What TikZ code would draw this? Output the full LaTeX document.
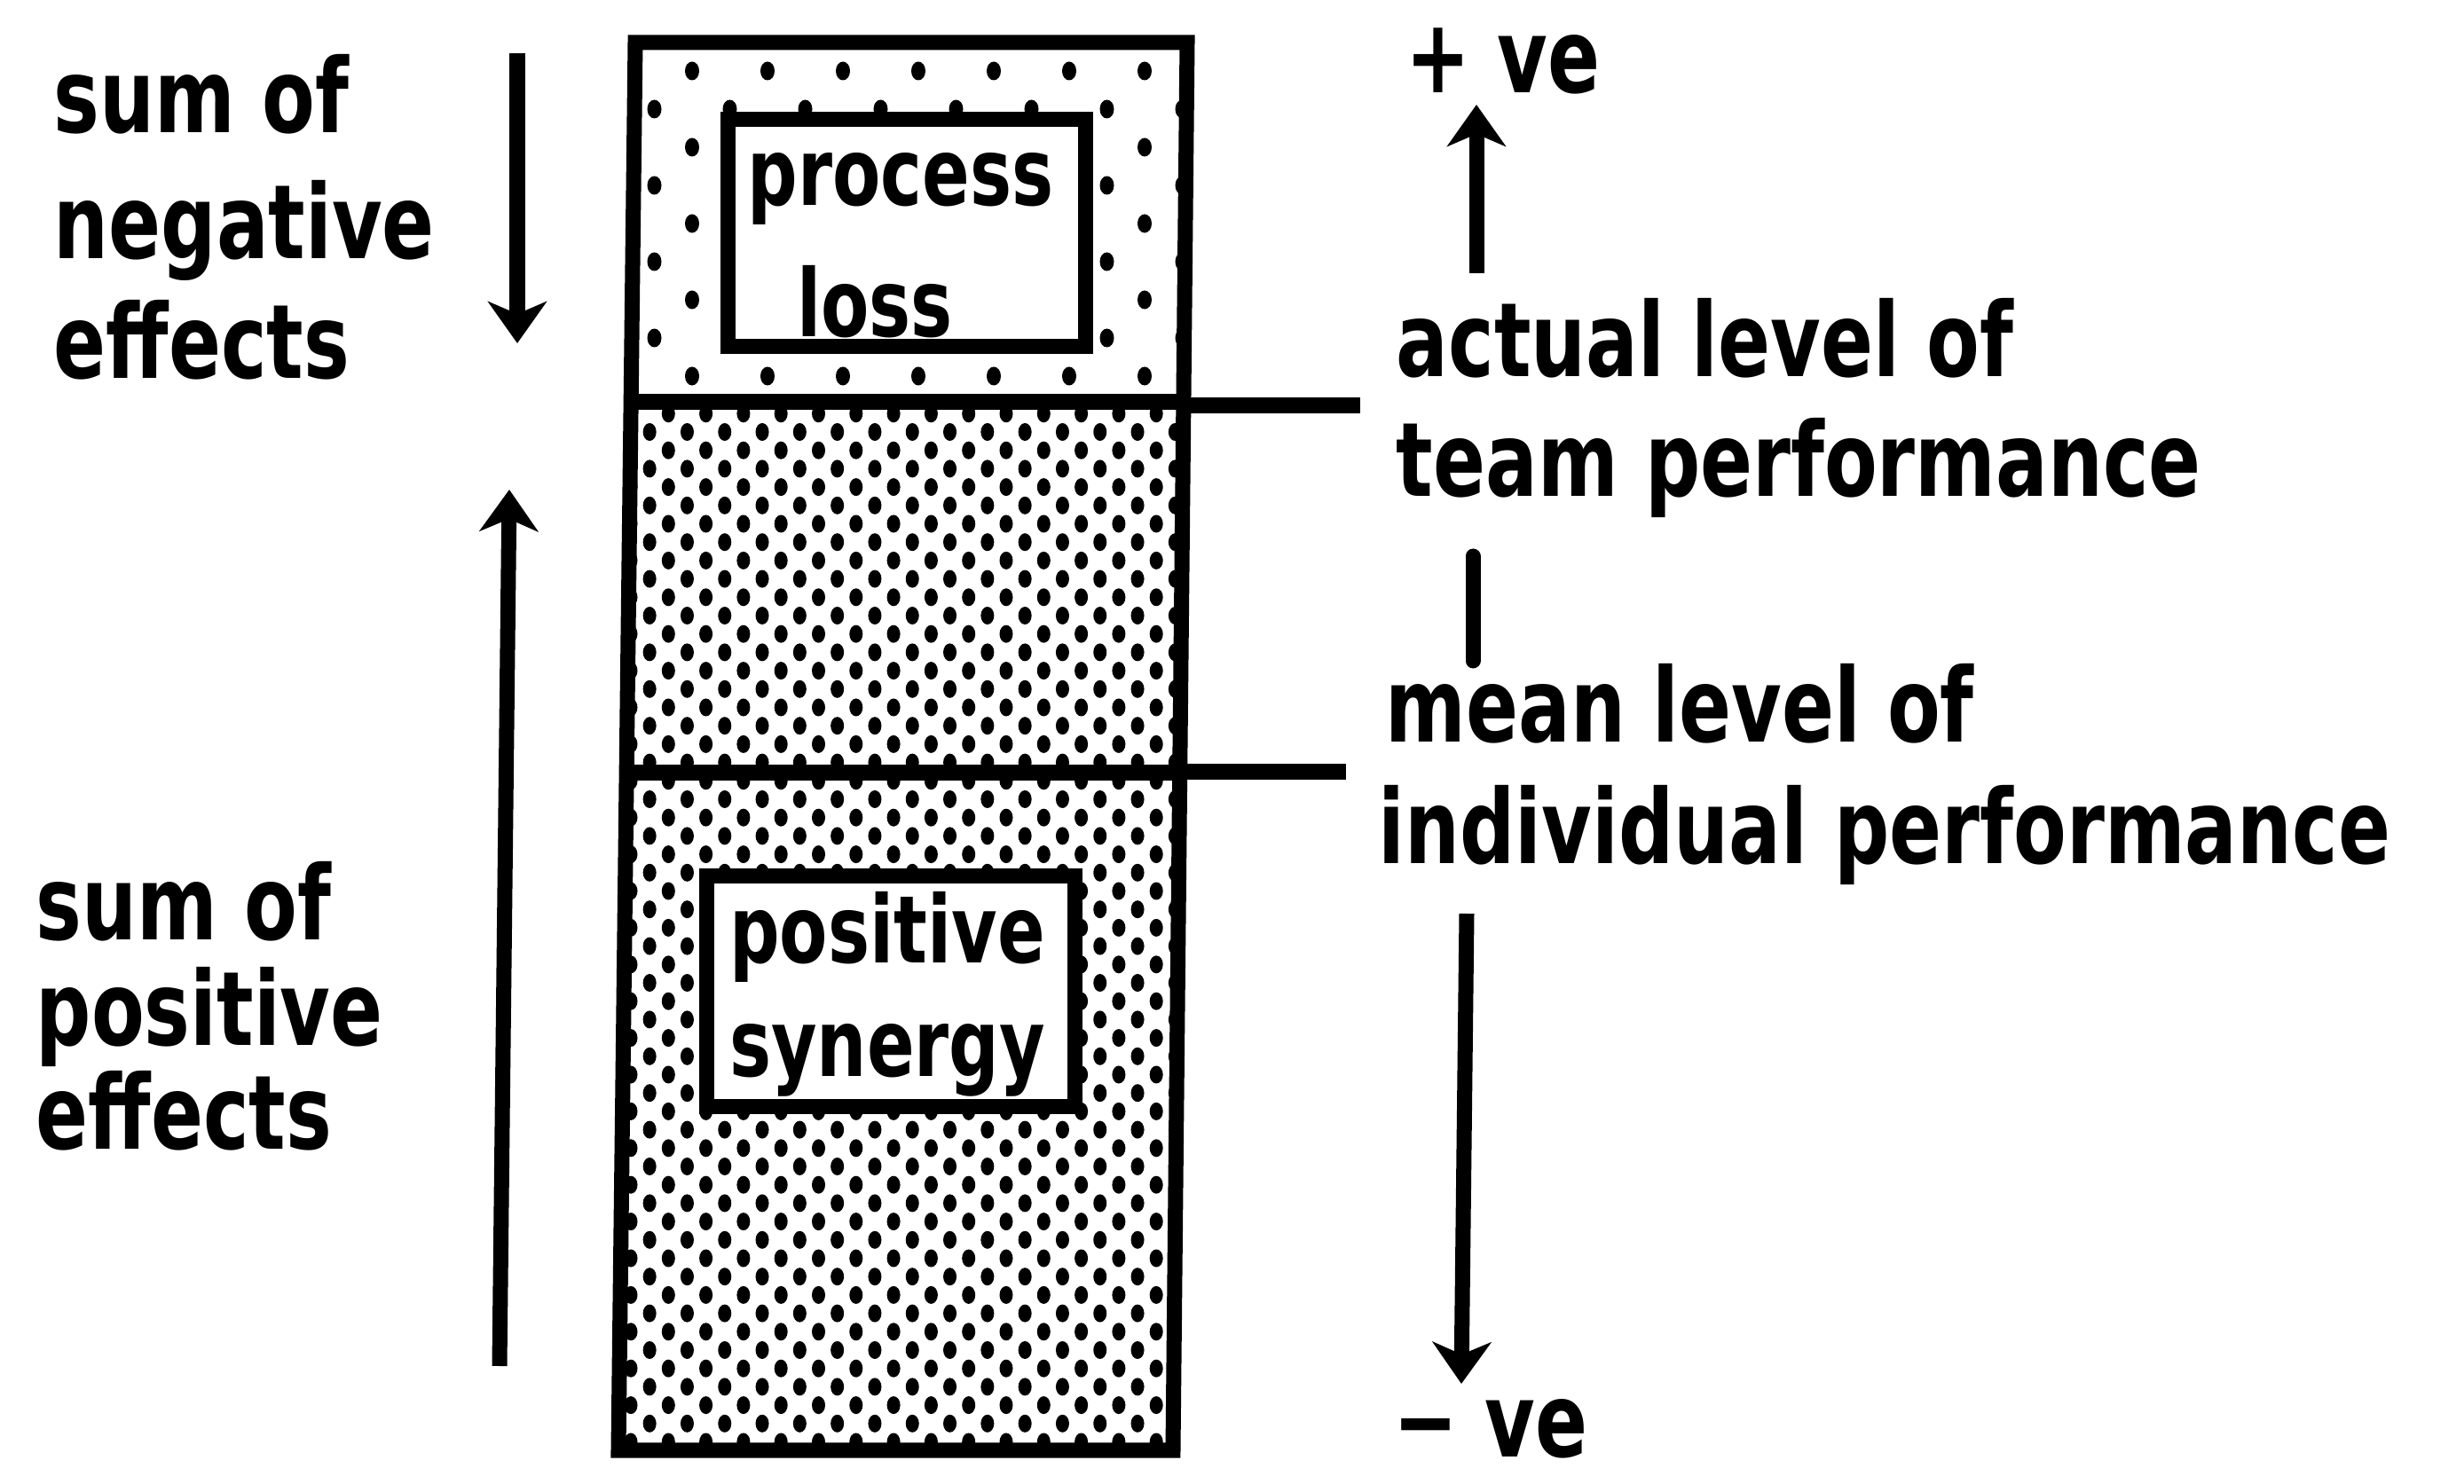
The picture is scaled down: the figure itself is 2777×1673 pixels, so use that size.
\documentclass[tikz,border=0pt]{standalone}
\usepackage{fontspec}
\newfontfamily\labfont[FakeStretch=0.75]{DejaVu Sans}
\usetikzlibrary{arrows.meta}
\begin{document}
\begin{tikzpicture}[x=0.01cm,y=-0.01cm,
  outer/.style={font=\labfont\bfseries\fontsize{33}{40}\selectfont, inner sep=0pt, anchor=base west},
  boxtxt/.style={font=\labfont\bfseries\fontsize{30}{36}\selectfont, inner sep=0pt, anchor=base},
  heavy/.style={line width=0.17cm},
  whitebox/.style={draw, fill=white, line width=0.17cm, inner sep=0pt},
  arr/.style={heavy, -{Stealth[length=0.47cm,width=0.66cm,inset=0.14cm]}},
  sdot/.style={fill=black}]
\fill[white] (0,0) rectangle (2777,1673);
\useasboundingbox (0,0) rectangle (2777,1673);
% column corners
\coordinate (tl) at (716,48);
\coordinate (tr) at (1338,48);
\coordinate (br) at (1322,1635);
\coordinate (bl) at (697,1635);
\coordinate (d1l) at (711,453);
\coordinate (d1r) at (1334,453);
\coordinate (d2l) at (706,871);
\coordinate (d2r) at (1330,871);
% sparse dots (top region)
\begin{scope}
  \clip (tl) -- (tr) -- (d1r) -- (d1l) -- cycle;
  \foreach \j in {0,...,8} {
    \pgfmathsetmacro\yy{80+43*\j}
    \pgfmathsetmacro\xo{isodd(\j) ? 652.5 : 695}
    \foreach \i in {0,...,9} {
      \fill[sdot] (\xo+85*\i,\yy) ellipse [x radius=0.08cm, y radius=0.105cm];
    }
  }
\end{scope}
% dense dots (middle and bottom regions)
\begin{scope}
  \clip (d1l) -- (d1r) -- (br) -- (bl) -- cycle;
  \foreach \j in {0,...,59} {
    \pgfmathsetmacro\yy{445.6+20.7*\j}
    \pgfmathsetmacro\xo{isodd(\j) ? 668.7 : 689.85}
    \foreach \i in {0,...,16} {
      \fill[sdot] (\xo+42.3*\i,\yy) ellipse [x radius=0.075cm, y radius=0.1cm];
    }
  }
\end{scope}
% column outline and dividers
\draw[heavy] (tl) -- (tr) -- (br) -- (bl) -- cycle;
\draw[heavy] (d1l) -- (d1r);
\draw[heavy] (d2l) -- (d2r);
% inner boxes
\node[whitebox, minimum width=4.02cm, minimum height=2.55cm] (plbox) at (1022,262.5) {};
\node[whitebox, minimum width=4.14cm, minimum height=2.59cm] (psbox) at (1004,1117.5) {};
\node[boxtxt] (pl1) at (1015,232) {process};
\node[boxtxt] (pl2) at (986,380) {loss};
\node[boxtxt] (ps1) at (1000,1085) {positive};
\node[boxtxt] (ps2) at (1000,1213) {synergy};
% left labels
\node[outer] (n1) at (60,150) {sum of};
\node[outer] (n2) at (60,292) {negative};
\node[outer] (n3) at (60,427) {effects};
\node[outer] (p1) at (40,1059) {sum of};
\node[outer] (p2) at (40,1179) {positive};
\node[outer] (p3) at (40,1295) {effects};
% right labels
\node[outer] (plus) at (1584,105) {+ ve};
\node[outer] (a1) at (1573,425) {actual level of};
\node[outer] (a2) at (1573,560) {team performance};
\node[outer] (m1) at (1561,837) {mean level of};
\node[outer] (m2) at (1553,973) {individual performance};
\node[outer] (minus) at (1570,1642) {− ve};
% connectors
\coordinate (c1a) at (1334,457);
\coordinate (c1b) at (1533,457);
\coordinate (c2a) at (1330,870);
\coordinate (c2b) at (1517,870);
\draw[heavy] (c1a) -- (c1b);
\draw[heavy] (c2a) -- (c2b);
\coordinate (upS) at (1664,308);
\coordinate (upT) at (1664,118);
\draw[arr] (upS) -- (upT);
\coordinate (barA) at (1660,627);
\coordinate (barB) at (1660,745);
\draw[heavy, line cap=round] (barA) -- (barB);
\coordinate (dnS) at (1653,1030);
\coordinate (dnT) at (1647,1560);
\draw[arr] (dnS) -- (dnT);
\coordinate (negS) at (583,60);
\coordinate (negT) at (583,387);
\draw[arr] (negS) -- (negT);
\coordinate (posS) at (563,1540);
\coordinate (posT) at (574,552);
\draw[arr] (posS) -- (posT);
\end{tikzpicture}
\end{document}
